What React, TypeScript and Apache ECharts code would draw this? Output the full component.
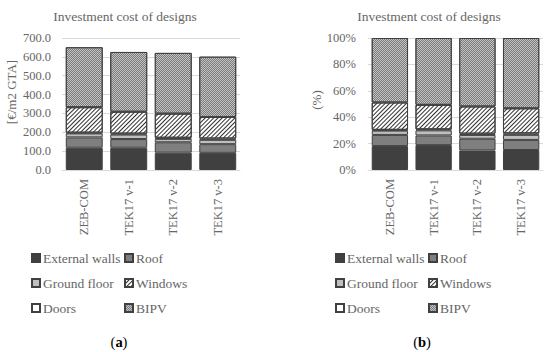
import React, { useEffect, useRef } from "react";
import * as echarts from "echarts";

const categories = ["ZEB-COM", "TEK17 v-1", "TEK17 v-2", "TEK17 v-3"];
const externalWalls = [118, 118, 92, 91];
const roof = [55, 46, 55, 46];
const groundFloor = [21, 24, 18, 23];
const doors = [4, 5, 6, 7];
const windows = [135, 116, 128, 114];
const bipv = [318, 317, 322, 320];

const costTicks = { min: 0, max: 700, interval: 100 };
const pctTicks = { min: 0, max: 100, interval: 20 };

const FONT = "Liberation Serif";
const TXT = "#666666";
const GRID = "#d9d9d9";
const BORDER = "#404040";

const hatch = {
  symbol: "rect",
  symbolSize: 1,
  dashArrayX: [1, 0],
  dashArrayY: [1, 2],
  rotation: -Math.PI / 4,
  color: "#303030",
};
const checker = {
  symbol: "rect",
  symbolSize: 1,
  dashArrayX: [[1, 1], [0, 1, 1, 0]],
  dashArrayY: [1, 0],
  rotation: 0,
  color: "#7a7a7a",
};

const seriesDefs = [
  { name: "External walls", data: externalWalls, color: "#404040", decal: null as any },
  { name: "Roof", data: roof, color: "#7f7f7f", decal: null as any },
  { name: "Ground floor", data: groundFloor, color: "#bfbfbf", decal: null as any },
  { name: "Doors", data: doors, color: "#ffffff", decal: null as any },
  { name: "Windows", data: windows, color: "#ffffff", decal: hatch as any },
  { name: "BIPV", data: bipv, color: "#c4c4c4", decal: checker as any },
];

export default function App() {
  const ref = useRef<HTMLDivElement>(null);
  useEffect(() => {
    if (!ref.current) return;
    const chart = echarts.init(ref.current, null, { renderer: "svg" });
    const totals = categories.map((_, i) =>
      seriesDefs.reduce((s, d) => s + d.data[i], 0)
    );
    const mkSeries = (idx: number) =>
      seriesDefs.map((d) => ({
        type: "bar",
        name: d.name,
        stack: idx === 0 ? "a" : "b",
        xAxisIndex: idx,
        yAxisIndex: idx,
        barCategoryGap: "17%",
        data:
          idx === 0
            ? d.data
            : d.data.map((v, i) => (v / totals[i]) * 100),
        itemStyle: {
          color: d.color,
          borderColor: BORDER,
          borderWidth: 1,
          ...(d.decal ? { decal: d.decal } : {}),
        },
      }));
    const legendCol = (left: number, names: string[]) => ({
      orient: "vertical",
      left,
      top: 251,
      padding: 0,
      itemWidth: 8,
      itemHeight: 8,
      itemGap: 11,
      icon: "rect",
      data: names,
      selectedMode: false,
      textStyle: { fontFamily: FONT, fontSize: 13.5, color: TXT, padding: [0, 0, 0, -2] },
    });
    const yLabel = { fontFamily: FONT, fontSize: 12.5, color: TXT };
    const caption = (x: number, letter: string) => ({
      type: "text",
      x,
      y: 342,
      style: {
        text: "({b|" + letter + "})",
        rich: { b: { fontWeight: "bold", fontFamily: FONT, fontSize: 14.5, fill: "#000" } },
        fontFamily: FONT,
        fontSize: 14.5,
        fill: "#000",
        align: "center",
        verticalAlign: "middle",
      },
    });
    chart.setOption({
      animation: false,
      title: [
        {
          text: "Investment cost of designs",
          left: 120,
          textAlign: "center",
          top: 4,
          textStyle: { fontFamily: FONT, fontSize: 13.5, fontWeight: "normal", color: TXT },
        },
        {
          text: "Investment cost of designs",
          left: 424,
          textAlign: "center",
          top: 4,
          textStyle: { fontFamily: FONT, fontSize: 13.5, fontWeight: "normal", color: TXT },
        },
      ],
      grid: [
        { left: 62, top: 38, width: 178, height: 132 },
        { left: 368, top: 38, width: 175, height: 132 },
      ],
      xAxis: [0, 1].map((i) => ({
        type: "category",
        gridIndex: i,
        data: categories,
        axisLine: { lineStyle: { color: GRID } },
        axisTick: { show: false },
        axisLabel: { rotate: 90, margin: 9, fontFamily: FONT, fontSize: 12.5, color: TXT },
      })),
      yAxis: [
        {
          type: "value",
          gridIndex: 0,
          ...costTicks,
          axisLine: { show: false },
          axisTick: { show: false },
          splitLine: { lineStyle: { color: GRID } },
          axisLabel: { ...yLabel, margin: 11, formatter: (v: number) => v.toFixed(1) },
        },
        {
          type: "value",
          gridIndex: 1,
          ...pctTicks,
          axisLine: { show: false },
          axisTick: { show: false },
          splitLine: { lineStyle: { color: GRID } },
          axisLabel: { ...yLabel, margin: 12, formatter: "{value}%" },
        },
      ],
      legend: [
        legendCol(31, ["External walls", "Ground floor", "Doors"]),
        legendCol(124, ["Roof", "Windows", "BIPV"]),
        legendCol(335, ["External walls", "Ground floor", "Doors"]),
        legendCol(428, ["Roof", "Windows", "BIPV"]),
      ],
      graphic: [
        {
          type: "text",
          x: 11,
          y: 92,
          rotation: Math.PI / 2,
          style: {
            text: "[€/m2 GTA]",
            fontFamily: FONT,
            fontSize: 13,
            fill: TXT,
            align: "center",
            verticalAlign: "middle",
          },
        },
        {
          type: "text",
          x: 316,
          y: 100,
          rotation: Math.PI / 2,
          style: {
            text: "(%)",
            fontFamily: FONT,
            fontSize: 13,
            fill: TXT,
            align: "center",
            verticalAlign: "middle",
          },
        },
        caption(119, "a"),
        caption(422, "b"),
      ],
      series: [...mkSeries(0), ...mkSeries(1)],
    });
    return () => chart.dispose();
  }, []);
  return (
    <div
      ref={ref}
      style={{ position: "fixed", left: 0, top: 0, width: 550, height: 352, background: "#fff" }}
    />
  );
}
